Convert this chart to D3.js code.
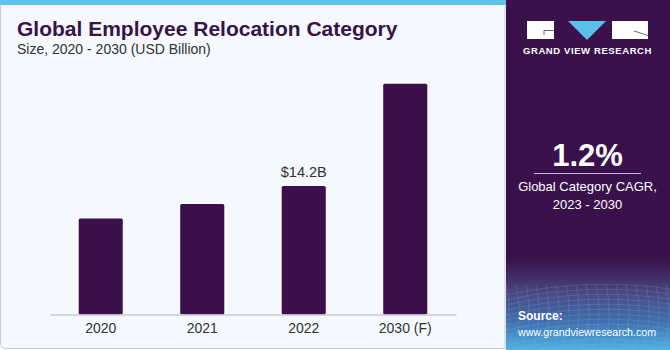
<!DOCTYPE html>
<html><head><meta charset="utf-8">
<script src="https://cdn.jsdelivr.net/npm/d3@7"></script>
<style>
html,body{margin:0;padding:0;background:#fff;}
svg{display:block;font-family:"Liberation Sans",Arial,sans-serif;}
</style></head>
<body>
<svg id="chart" width="670" height="350"></svg>
<script>
const categories = ["2020", "2021", "2022", "2030 (F)"];
const values = [10.6, 12.2, 14.2, 25.5];
const labelIndex = 2;
const labelText = "$14.2B";
const title = "Global Employee Relocation Category";
const subtitle = "Size, 2020 - 2030 (USD Billion)";
const cagr = "1.2%";
const cagrLines = ["Global Category CAGR,", "2023 - 2030"];

const svg = d3.select("#chart");
const defs = svg.append("defs");

// left panel
svg.append("path")
  .attr("d", "M0.5,0 H505 V348.5 H6 Q0.5,348.5 0.5,343 Z")
  .attr("fill", "#f5f8fc").attr("stroke", "#c9ccd2").attr("stroke-width", 1);
svg.append("rect").attr("x", 0).attr("y", 0).attr("width", 506).attr("height", 5).attr("fill", "#62c3ea");

// right panel
const grad = defs.append("linearGradient").attr("id", "pg").attr("x1", 0).attr("y1", 0).attr("x2", 0).attr("y2", 1);
grad.append("stop").attr("offset", "0%").attr("stop-color", "#3a114b");
grad.append("stop").attr("offset", "74%").attr("stop-color", "#3a114b");
grad.append("stop").attr("offset", "84%").attr("stop-color", "#4a4a82");
grad.append("stop").attr("offset", "92%").attr("stop-color", "#3f6fae");
grad.append("stop").attr("offset", "100%").attr("stop-color", "#4eb3e3");
svg.append("rect").attr("x", 506).attr("y", 0).attr("width", 164).attr("height", 350).attr("fill", "url(#pg)");

// faint mesh in the source area
const mesh = svg.append("g").attr("stroke", "#9fc0e8").attr("stroke-opacity", 0.25).attr("stroke-width", 0.7).attr("fill", "none");
for (let i = 0; i < 14; i++) {
  const yy = 285 + i * 5;
  mesh.append("path").attr("d", `M506,${yy + 10} Q590,${yy - 8} 670,${yy + 4}`);
}
for (let i = 0; i < 18; i++) {
  const xx = 506 + i * 10;
  mesh.append("path").attr("d", `M${xx},285 Q${xx + 8},320 ${xx - 4},350`);
}

// logo
const logo = svg.append("g");
logo.append("rect").attr("x", 527).attr("y", 21).attr("width", 27).attr("height", 18).attr("fill", "#fff");
logo.append("path").attr("d", "M568,21 L606,21 L587,40 Z").attr("fill", "#5bc0eb");
logo.append("rect").attr("x", 612).attr("y", 21).attr("width", 36).attr("height", 18).attr("fill", "#fff");
logo.append("path").attr("d", "M554,30.5 H544 V35").attr("stroke", "#6a6a7a").attr("stroke-width", 1).attr("fill", "none");
logo.append("path").attr("d", "M634,31 L648,35.5").attr("stroke", "#6a6a7a").attr("stroke-width", 1);
logo.append("text").attr("x", 587.5).attr("y", 54).attr("text-anchor", "middle")
  .attr("fill", "#fff").attr("font-size", 9.5).attr("font-weight", "bold").attr("letter-spacing", 0.6)
  .text("GRAND VIEW RESEARCH");

// CAGR block
svg.append("text").attr("x", 587.5).attr("y", 166).attr("text-anchor", "middle")
  .attr("fill", "#fff").attr("font-size", 31).attr("font-weight", "bold").text(cagr);
svg.append("line").attr("x1", 534).attr("x2", 641).attr("y1", 173.5).attr("y2", 173.5)
  .attr("stroke", "#c9b6dc").attr("stroke-width", 1);
cagrLines.forEach((t, i) => {
  svg.append("text").attr("x", 587.5).attr("y", 191 + i * 17.5).attr("text-anchor", "middle")
    .attr("fill", "#fff").attr("font-size", 13).text(t);
});

// source
svg.append("text").attr("x", 518).attr("y", 320).attr("fill", "#fff").attr("font-size", 12).attr("font-weight", "bold").text("Source:");
svg.append("text").attr("x", 518).attr("y", 336).attr("fill", "#fff").attr("font-size", 11.5)
  .attr("textLength", 138).attr("lengthAdjust", "spacingAndGlyphs").text("www.grandviewresearch.com");

// title
svg.append("text").attr("x", 17).attr("y", 36).attr("fill", "#371449")
  .attr("font-size", 21).attr("font-weight", "bold").text(title);
svg.append("text").attr("x", 17).attr("y", 54).attr("fill", "#333")
  .attr("font-size", 14).text(subtitle);

// scales
const x = d3.scaleBand().domain(categories).range([50, 456]).paddingInner(0.566).paddingOuter(0.283);
const y = d3.scaleLinear().domain([0, 28]).range([314.5, 61]);

svg.append("g").selectAll("rect").data(categories).join("rect")
  .attr("x", d => x(d)).attr("width", x.bandwidth())
  .attr("y", (d, i) => y(values[i])).attr("height", (d, i) => y(0) - y(values[i]))
  .attr("rx", 1.5).attr("fill", "#3a0f4a");

const axis = svg.append("g").attr("transform", `translate(0,${y(0)})`)
  .call(d3.axisBottom(x).tickSize(0).tickPadding(9));
axis.select(".domain").attr("stroke", "#c8ccd2").attr("stroke-width", 1.5);
axis.selectAll("text").attr("font-size", 14).attr("fill", "#333").attr("font-family", "Liberation Sans, Arial, sans-serif");

svg.append("text")
  .attr("x", x(categories[labelIndex]) + x.bandwidth() / 2)
  .attr("y", y(values[labelIndex]) - 9)
  .attr("text-anchor", "middle").attr("fill", "#333").attr("font-size", 14.5).text(labelText);
</script>
</body></html>
